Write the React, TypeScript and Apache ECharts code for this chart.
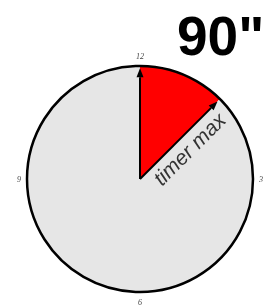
import React, { useEffect, useRef } from "react";
import * as echarts from "echarts";

const titleText = '90"';
const sectorNames = ["timer", "rest"];
const sectorValues = [1.5, 10.5];
const sectorColors = ["#ff0000", "#e6e6e6"];
const tickLabels = ["12", "3", "6", "9", "12"];
const handAngles = [0, 1.5];
const handRadius = [0.98, 0.97];
const handLabels = ["", "timer max"];

export default function App() {
  const ref = useRef<HTMLDivElement>(null);
  useEffect(() => {
    const chart = echarts.init(ref.current!, null, { renderer: "svg" });
    const center = [140, 179];
    const R = 113;
    chart.setOption({
      animation: false,
      title: {
        text: titleText,
        left: 172,
        top: 3,
        textStyle: { fontSize: 55, fontWeight: "bold", color: "#000", fontFamily: "Liberation Sans" },
      },
      polar: { center, radius: R },
      angleAxis: {
        type: "value",
        min: 0,
        max: 12,
        interval: 3,
        startAngle: 90,
        clockwise: true,
        axisLine: { show: true, lineStyle: { color: "#000", width: 2.5 } },
        axisTick: { show: false },
        splitLine: { show: false },
        axisLabel: {
          show: true,
          margin: 6,
          fontSize: 8,
          fontStyle: "italic",
          fontFamily: "Liberation Serif",
          color: "#444",
          formatter: (v: number) => tickLabels[Math.round(v / 3)],
        },
        z: 5,
      },
      radiusAxis: { type: "value", min: 0, max: 1, show: false },
      series: [
        {
          type: "pie",
          center,
          radius: R,
          startAngle: 90,
          clockwise: true,
          silent: true,
          label: { show: false },
          labelLine: { show: false },
          data: sectorValues.map((v, i) => ({ name: sectorNames[i], value: v, itemStyle: { color: sectorColors[i] } })),
          z: 1,
        },
        {
          type: "custom",
          coordinateSystem: "polar",
          z: 10,
          data: handAngles.map((a, i) => [handRadius[i], a]),
          renderItem: (params: any, api: any) => {
            const r = api.value(0);
            const a = api.value(1);
            const c = api.coord([0, a]);
            const tip = api.coord([r, a]);
            const dx = tip[0] - c[0];
            const dy = tip[1] - c[1];
            const len = Math.sqrt(dx * dx + dy * dy);
            const ux = dx / len;
            const uy = dy / len;
            const nx = -uy;
            const ny = ux;
            const ah = 9;
            const aw = 3.5;
            const bx = tip[0] - ux * ah;
            const by = tip[1] - uy * ah;
            const children: any[] = [
              {
                type: "line",
                shape: { x1: c[0], y1: c[1], x2: bx, y2: by },
                style: { stroke: "#000", lineWidth: 2 },
              },
              {
                type: "polygon",
                shape: {
                  points: [
                    [tip[0], tip[1]],
                    [bx + nx * aw, by + ny * aw],
                    [bx - nx * aw, by - ny * aw],
                  ],
                },
                style: { fill: "#000" },
              },
            ];
            const label = handLabels[params.dataIndex];
            if (label) {
              children.push({
                type: "text",
                x: c[0] + ux * 10 + nx * 3,
                y: c[1] + uy * 10 + ny * 3,
                rotation: Math.atan2(-dy, dx),
                style: {
                  text: label,
                  fill: "#333",
                  fontSize: 21,
                  fontStyle: "italic",
                  fontFamily: "Liberation Sans",
                  align: "left",
                  verticalAlign: "top",
                },
              });
            }
            return { type: "group", children };
          },
        },
      ],
    });
    return () => chart.dispose();
  }, []);
  return <div ref={ref} style={{ position: "fixed", left: 0, top: 0, width: 265, height: 307 }} />;
}
